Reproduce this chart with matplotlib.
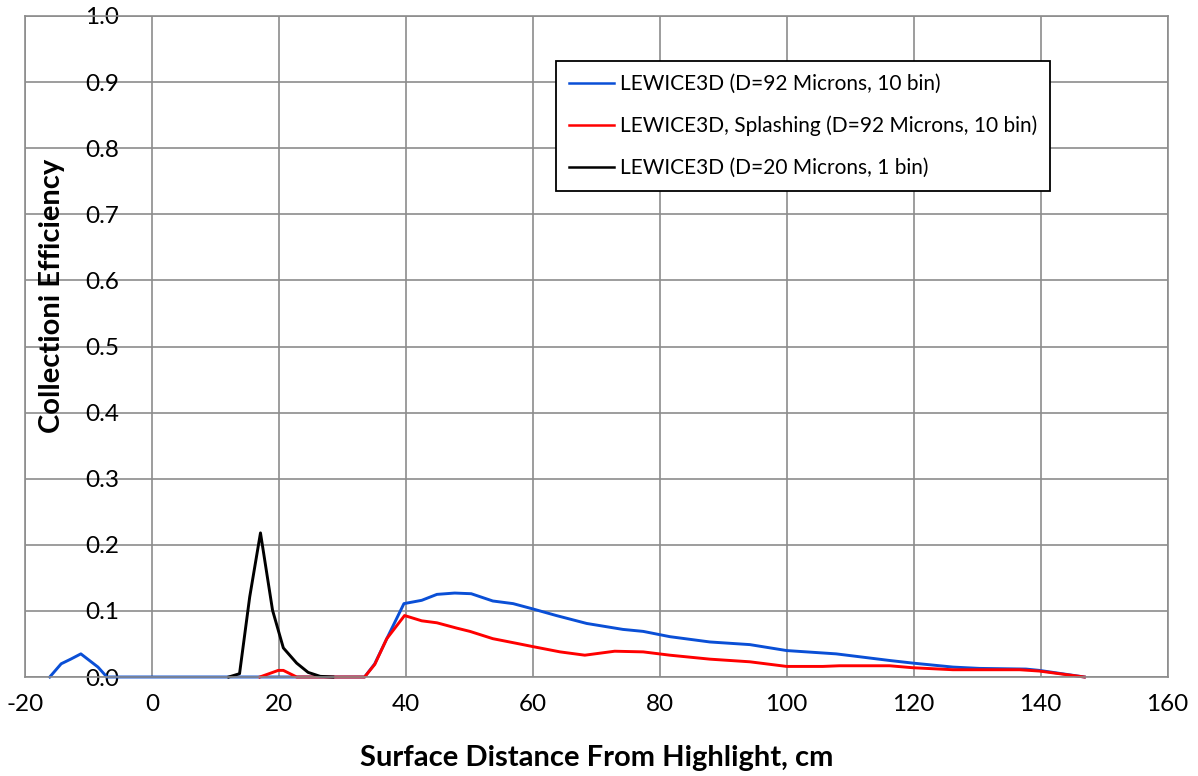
import matplotlib.pyplot as plt

plt.rcParams['font.family'] = ['Lato', 'DejaVu Sans']

# blue: LEWICE3D 92 micron, 10 bin
blue_x = [-16.1, -14.3, -12.8, -11.2, -8.5, -7.1, 33.5, 35.1, 37.0, 39.7, 42.5, 44.9,
          47.7, 50.3, 53.7, 56.9, 60.0, 63.7, 68.5, 74.2, 77.4, 81.6, 87.9, 94.2,
          100.0, 107.8, 116.2, 119.9, 126.2, 130.4, 137.7, 139.8, 146.9]
blue_y = [0, 0.020, 0.027, 0.035, 0.015, 0, 0, 0.020, 0.058, 0.111, 0.116, 0.125,
          0.127, 0.126, 0.115, 0.111, 0.103, 0.093, 0.081, 0.072, 0.069, 0.061, 0.053, 0.049,
          0.040, 0.035, 0.025, 0.021, 0.015, 0.013, 0.012, 0.010, 0]

# red: splashing
red_x = [17.0, 19.9, 20.7, 22.8, 33.5, 35.1, 37.0, 39.8, 42.5, 44.9, 48.0, 50.1,
         53.7, 57.4, 60.0, 64.3, 68.2, 72.9, 77.4, 81.6, 87.9, 94.2, 100.0, 105.7,
         108.3, 116.2, 119.9, 126.2, 136.7, 139.8, 146.9]
red_y = [0, 0.010, 0.010, 0, 0, 0.019, 0.058, 0.093, 0.085, 0.082, 0.074, 0.069,
         0.058, 0.051, 0.046, 0.038, 0.033, 0.039, 0.038, 0.033, 0.027, 0.023, 0.016, 0.016,
         0.017, 0.017, 0.014, 0.011, 0.011, 0.009, 0]

# black: 20 micron, 1 bin
black_x = [12.1, 13.8, 15.4, 17.1, 19.0, 20.7, 22.8, 24.6, 26.5, 28.5]
black_y = [0, 0.005, 0.121, 0.218, 0.101, 0.044, 0.021, 0.007, 0.001, 0]

labels = ['LEWICE3D (D=92 Microns, 10 bin)',
          'LEWICE3D, Splashing (D=92 Microns, 10 bin)',
          'LEWICE3D (D=20 Microns, 1 bin)']
xticks = list(range(-20, 161, 20))
yticks = [i / 10 for i in range(11)]

fig = plt.figure(figsize=(11.98, 7.76), dpi=100)
ax = fig.add_axes([25 / 1198, 1 - 677 / 776, 1142.5 / 1198, 661 / 776])

ax.plot(blue_x, blue_y, color='#0a4fd6', lw=2.1, label=labels[0], clip_on=False)
ax.plot(red_x, red_y, color='#ff0000', lw=2.1, label=labels[1], clip_on=False)
ax.plot(black_x, black_y, color='black', lw=2.1, label=labels[2], clip_on=False)

ax.set_xlim(-20, 160)
ax.set_ylim(0, 1.0)
ax.set_xticks(xticks)
ax.set_xticklabels([str(t) for t in xticks])
ax.set_yticks(yticks)
ax.set_yticklabels(['%.1f' % t for t in yticks])
ax.grid(True, color='#8c8c8c', lw=1.2)
for s in ax.spines.values():
    s.set_color('#8c8c8c')
    s.set_linewidth(1.2)
ax.tick_params(axis='x', length=0, pad=12, labelsize=17.5)
ax.tick_params(axis='y', length=0, pad=-68, labelsize=17.5)

ax.set_xlabel('Surface Distance From Highlight, cm', fontsize=21, fontweight='bold', labelpad=22)
ax.set_ylabel('Collectioni Efficiency', fontsize=21, fontweight='bold')
ax.yaxis.set_label_coords(65 / 1198, 1 - 296 / 776, transform=fig.transFigure)

leg = ax.legend(loc='upper left', bbox_to_anchor=(556 / 1198, 1 - 61 / 776),
                bbox_transform=fig.transFigure, borderaxespad=0, fancybox=False,
                edgecolor='black', framealpha=1, fontsize=15, handlelength=2.15,
                handletextpad=0.28, labelspacing=1.05, borderpad=0.62)
leg.get_frame().set_linewidth(1.3)
for h in leg.get_lines():
    h.set_linewidth(1.8)

fig.savefig('out.png', dpi=100)
